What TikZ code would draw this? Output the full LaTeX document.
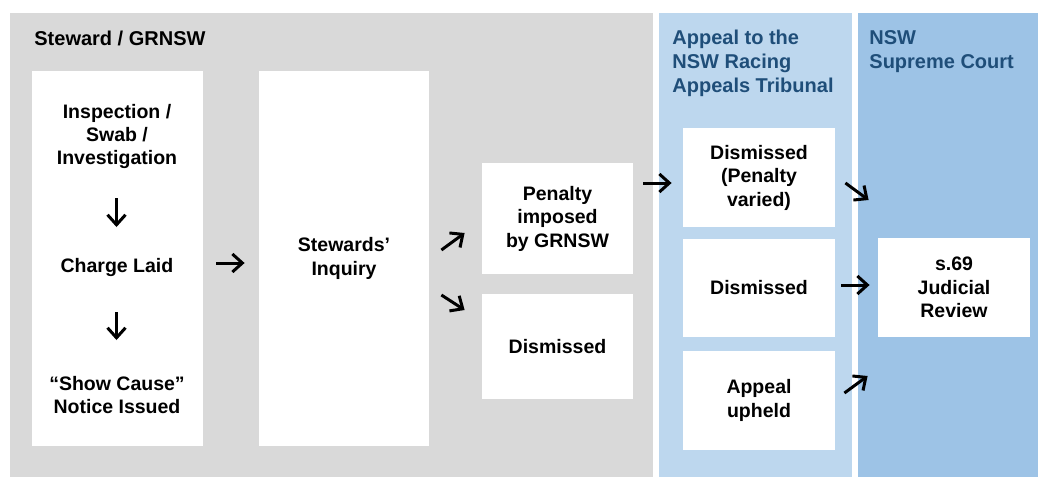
\documentclass[tikz,border=0pt]{standalone}
\usepackage{fontspec}
\setmainfont{Liberation Sans}
\usetikzlibrary{arrows.meta,calc}
\definecolor{panelgrey}{HTML}{D9D9D9}
\definecolor{panelblue}{HTML}{BDD7EE}
\definecolor{courtblue}{HTML}{9DC3E6}
\definecolor{headblue}{HTML}{1F4E79}
\begin{document}
\begin{tikzpicture}[x=0.5pt, y=-0.5pt,
    wbox/.style={fill=white, inner sep=0pt, align=center, font=\fontsize{9.75}{11.75}\selectfont\bfseries},
    btext/.style={inner sep=0pt, align=center, font=\fontsize{9.75}{11.5}\selectfont\bfseries},
    head/.style={inner sep=0pt, align=left, anchor=base west, font=\fontsize{10}{12}\selectfont\bfseries},
    arr/.style={line width=1.5pt, -{Straight Barb[length=5pt, width=9pt, line width=1.5pt]}}]
            \useasboundingbox (0,0) rectangle (1038,477);

            % panels
            \fill[panelgrey] (10,13) rectangle (653,477);
            \fill[panelblue] (659,13) rectangle (852,477);
            \fill[courtblue] (858,13) rectangle (1038,477);

            % headers (anchored at the baseline of the last line)
            \node[head] (hstw) at (34,45) {Steward / GRNSW};
            \node[head, headblue] (htrib) at (672,92) {Appeal to the\\NSW Racing\\Appeals Tribunal};
            \node[head, headblue] (hcourt) at (869,68) {NSW\\Supreme Court};

            % steward column
            \node[wbox, minimum width=85.5pt, minimum height=187.5pt] (stw) at (117.5,258.5) {};
            \node[btext] (insp) at (117,136) {Inspection /\\Swab /\\Investigation};
            \node[btext, anchor=base] (charge) at (117,272) {Charge Laid};
            \node[btext] (cause) at (117,395) {``Show Cause''\\Notice Issued};
            \node[wbox, minimum width=85pt, minimum height=187.5pt] (inq) at (344,258.5) {Stewards'\\Inquiry};
            \node[wbox, minimum width=75.5pt, minimum height=55.5pt] (pen) at (557.5,218.5) {Penalty\\imposed\\by GRNSW};
            \node[wbox, minimum width=75.5pt, minimum height=52.5pt] (sdis) at (557.5,346.5) {Dismissed};

            % tribunal column
            \node[wbox, minimum width=76pt, minimum height=49.5pt] (var) at (759,177.5) {Dismissed\\(Penalty\\varied)};
            \node[wbox, minimum width=76pt, minimum height=49pt] (tdis) at (759,288) {Dismissed};
            \node[wbox, minimum width=76pt, minimum height=49.5pt] (upheld) at (759,400.5) {Appeal\\upheld};

            % court column
            \node[wbox, minimum width=76pt, minimum height=49.5pt] (jr) at (954,287.5) {s.69\\Judicial\\Review};

            \draw[arr] ($(stw.center)+(-1,-60.5)$) -- ($(stw.center)+(-1,-31.5)$);
            \draw[arr] ($(stw.center)+(-1,53.5)$) -- ($(stw.center)+(-1,81.5)$);
            \draw[arr] ($(stw.east)+(13,4.5)$) -- ($(inq.west)+(-14,4.5)$);
            \draw[arr] ($(inq.east)+(12,-8.5)$) -- ($(pen.west)+(-17,14.5)$);
            \draw[arr] ($(inq.east)+(12,36.5)$) -- ($(sdis.west)+(-17,-36.5)$);
            \draw[arr] ($(pen.east)+(10,-35.5)$) -- ($(var.west)+(-11,5.5)$);
            \draw[arr] ($(var.east)+(10,5.5)$) -- ($(jr.west)+(-9,-87.5)$);
            \draw[arr] ($(tdis.east)+(6,-3)$) -- ($(jr.west)+(-8,-2.5)$);
            \draw[arr] ($(upheld.east)+(9,-7.5)$) -- ($(jr.west)+(-10,88.5)$);
        \end{tikzpicture}
\end{document}
